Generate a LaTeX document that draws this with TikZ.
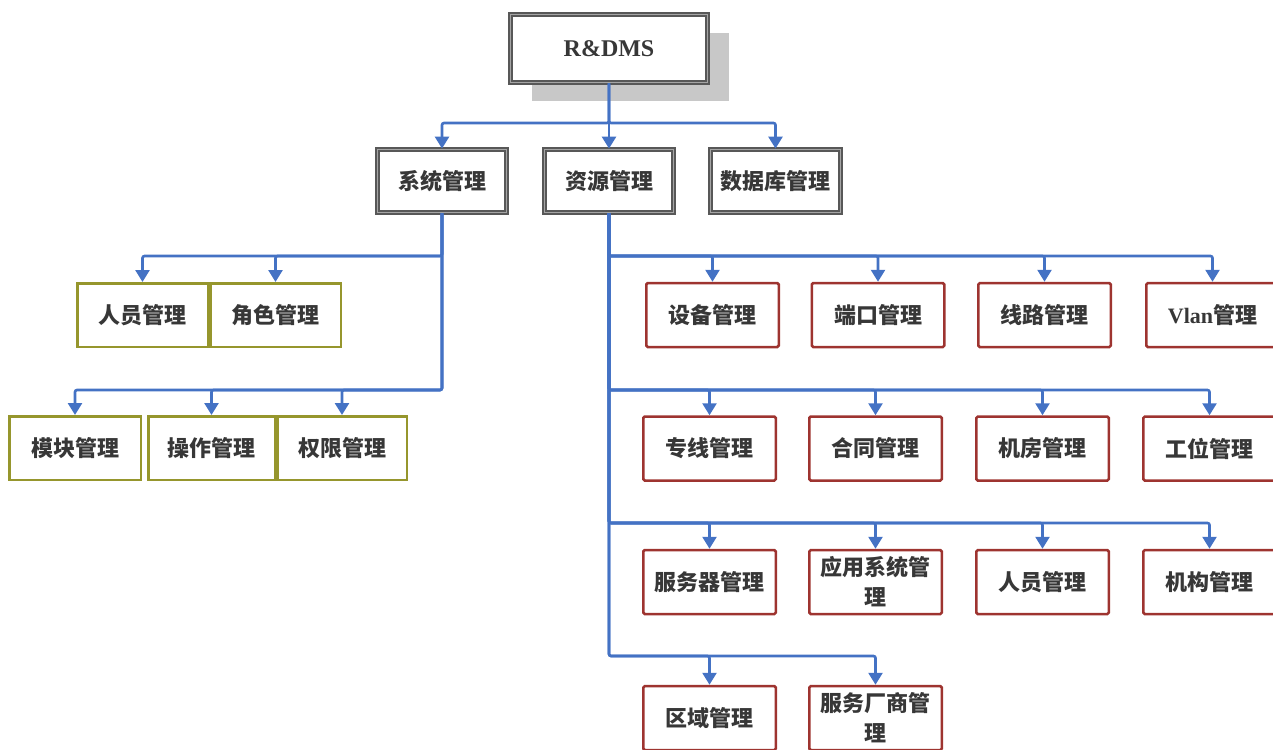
\documentclass[tikz,border=0pt]{standalone}
\usepackage{fontspec}
\setmainfont{Liberation Serif}
\newfontfamily\cjk{Noto Sans CJK SC}
\usepackage{tikz}
\definecolor{ln}{RGB}{68,114,196}
\definecolor{rd}{RGB}{158,52,48}
\definecolor{ol}{RGB}{150,150,45}
\definecolor{fr}{RGB}{88,88,88}
\definecolor{fm}{RGB}{165,165,165}
\definecolor{sh}{RGB}{200,200,200}
\definecolor{tx}{RGB}{55,55,55}
\usetikzlibrary{positioning}
\usetikzlibrary{arrows.meta}
\usetikzlibrary{shadows}

\begin{document}
\begin{tikzpicture}
				[x=1pt,y=-1pt,every node/.style={inner sep=0pt,text=tx,align=center,font=\cjk\bfseries\fontsize{22}{30}\selectfont},
				top/.style={rectangle,fill=white,draw=fr,double=fm,line width=1.8pt,double distance=1.2pt,minimum width=129pt,minimum height=63pt},
				sub/.style={rectangle,draw=ol,line width=2.5pt,minimum height=63.5pt},
				leaf/.style={rectangle,rounded corners=1.5pt,draw=rd,line width=2.5pt,minimum width=132.5pt,minimum height=64pt},
				link/.style={draw=ln,line width=2.6pt,rounded corners=2pt,-{Triangle[width=14pt,length=12pt]}}]
				\useasboundingbox (0,0) rectangle (1273,749);
				\node (0) [top,minimum width=197pt,minimum height=68pt,drop shadow={shadow xshift=21pt,shadow yshift=-19pt,fill=sh,opacity=1}] at (609,48.5) {\rmfamily\fontsize{24}{30}\selectfont R\&DMS};
				\node (1) [top] at (442,181) {系统管理};
				\node (2) [top] at (609,181) {资源管理};
				\node (3) [top,minimum width=130pt] at (775.5,181) {数据库管理};
				\node (11) [sub,minimum width=130.5pt] at (142.5,315) {人员管理};
				\node (12) [sub,minimum width=130.5pt] at (275.5,315) {角色管理};
				\node (13) [sub,minimum width=131.5pt] at (75,448) {模块管理};
				\node (14) [sub,minimum width=126.5pt] at (211.5,448) {操作管理};
				\node (15) [sub,minimum width=129.5pt] at (342,448) {权限管理};
				\node (21) [leaf] at (712.5,315) {设备管理};
				\node (22) [leaf] at (878,315) {端口管理};
				\node (23) [leaf] at (1044.5,315) {线路管理};
				\node (24) [leaf] at (1212.5,315) {{\rmfamily Vlan}管理};
				\node (25) [leaf] at (709.5,448.5) {专线管理};
				\node (26) [leaf] at (875.5,448.5) {合同管理};
				\node (27) [leaf] at (1042.5,448.5) {机房管理};
				\node (28) [leaf] at (1209.5,448.5) {工位管理};
				\node (29) [leaf] at (709.5,582) {服务器管理};
				\node (30) [leaf] at (875.5,582) {应用系统管\\理};
				\node (31) [leaf] at (1042.5,582) {人员管理};
				\node (32) [leaf] at (1209.5,582) {机构管理};
				\node (33) [leaf] at (709.5,718) {区域管理};
				\node (34) [leaf] at (875.5,718) {服务厂商管\\理};
				\coordinate (b0) at (609,123);
				\coordinate (b1) at (442,256);
				\coordinate (b2) at (442,390);
				\coordinate (b3) at (609,256);
				\coordinate (b4) at (609,390);
				\coordinate (b5) at (609,523);
				\coordinate (b6) at (609,656);
				\foreach \n in {1,2,3} \draw [link] (0.south) -- (b0) -| (\n.north);
				\foreach \n in {11,12} \draw [link] (1.south) -- (b1) -| (\n.north);
				\foreach \n in {13,14,15} \draw [link] (1.south) -- (b2) -| (\n.north);
				\foreach \n in {21,22,23,24} \draw [link] (2.south) -- (b3) -| (\n.north);
				\foreach \n in {25,26,27,28} \draw [link] (2.south) -- (b4) -| (\n.north);
				\foreach \n in {29,30,31,32} \draw [link] (2.south) -- (b5) -| (\n.north);
				\foreach \n in {33,34} \draw [link] (2.south) -- (b6) -| (\n.north);
		\end{tikzpicture}
\end{document}
